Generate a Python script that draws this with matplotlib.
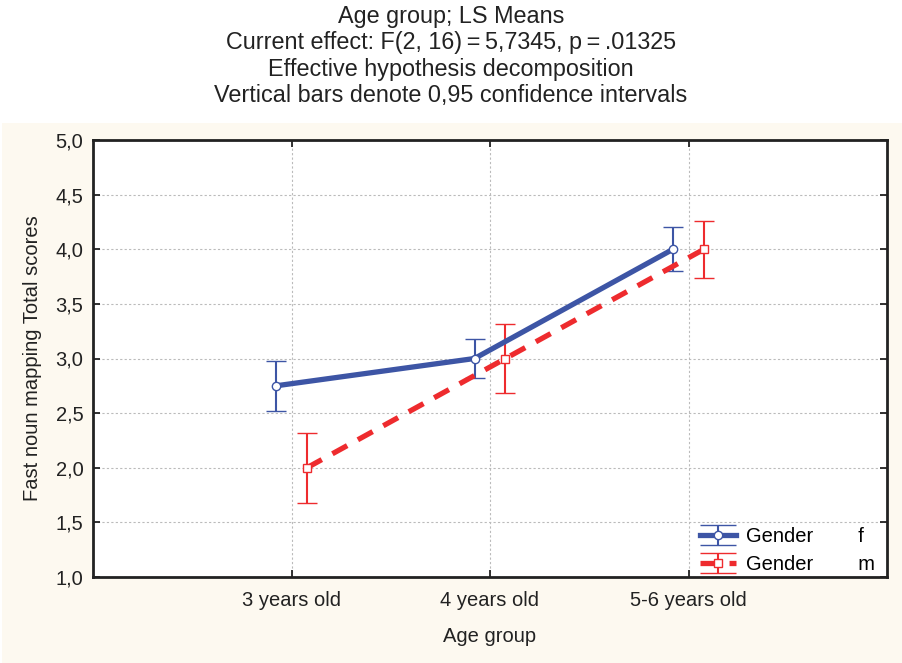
import matplotlib
matplotlib.use("Agg")
import matplotlib.pyplot as plt
from matplotlib.patches import Rectangle
from matplotlib.lines import Line2D
from matplotlib.legend_handler import HandlerErrorbar
import numpy as np

plt.rcParams['font.family'] = ['Liberation Sans', 'DejaVu Sans']

# data
age_groups = ["3 years old", "4 years old", "5-6 years old"]
female_mean = [2.75, 3.0, 4.0]
female_ci = [0.23, 0.18, 0.20]
male_mean = [2.0, 3.0, 4.0]
male_ci = [0.32, 0.32, 0.26]

title_lines = ["Age group; LS Means",
               "Current effect: F(2, 16)\u2009=\u20095,7345, p\u2009=\u2009.01325",
               "Effective hypothesis decomposition",
               "Vertical bars denote 0,95 confidence intervals"]

blue = "#3d55a5"
red = "#ee2b2e"
ink = "#222222"


class WideCapHandler(HandlerErrorbar):
    """Errorbar legend handle whose caps span the whole handle, like STATISTICA."""

    def create_artists(self, legend, orig_handle, xdescent, ydescent, width, height,
                       fontsize, trans):
        arts = super().create_artists(legend, orig_handle, xdescent, ydescent, width,
                                      height, fontsize, trans)
        for a in arts:
            if isinstance(a, Line2D) and a.get_marker() == "_":
                a.set_markersize(width)
        return arts


W, H = 902, 663
fig = plt.figure(figsize=(W / 100, H / 100), dpi=100)
fig.patch.set_facecolor("white")
fig.patches.append(Rectangle((2 / W, 0), 1, 1 - 123 / H, transform=fig.transFigure,
                             facecolor="#fdf9f0", edgecolor="none", zorder=-5))

ax = fig.add_axes([93 / W, 1 - 577 / H, (887 - 93) / W, (577 - 140) / H])
ax.set_facecolor("white")

x = np.arange(1, len(age_groups) + 1)
off = 0.078

ax.errorbar(x - off, female_mean, yerr=female_ci, fmt="-o", color=blue, lw=3.8,
            ms=6, mfc="white", mec=blue, mew=1, ecolor=blue, elinewidth=1.5,
            capsize=7.5, capthick=1.5, zorder=3, label="Gender        f")
ax.errorbar(x + off, male_mean, yerr=male_ci, fmt="s", ls=(0, (3.2, 2.3)), color=red,
            lw=3.8, ms=6, mfc="white", mec=red, mew=1, ecolor=red, elinewidth=1.5,
            capsize=7.5, capthick=1.5, zorder=3, label="Gender        m")

ax.set_xlim(0, 4)
ax.set_ylim(1.0, 5.0)
ax.set_xticks(x)
ax.set_xticklabels(age_groups, fontsize=14.5)
yt = np.arange(1.0, 5.01, 0.5)
ax.set_yticks(yt)
ax.set_yticklabels([f"{v:.1f}".replace(".", ",") for v in yt], fontsize=14.5)
ax.tick_params(direction="in", length=5, width=1.3, top=True, right=True, colors=ink)
ax.tick_params(axis="x", pad=10)
ax.tick_params(axis="y", pad=7)
ax.grid(True, color="#bbbbbb", ls=(0, (2, 2)), lw=0.8)
for s in ax.spines.values():
    s.set_linewidth(2.0)
    s.set_color(ink)

ax.set_xlabel("Age group", fontsize=14.5, labelpad=12, color=ink)
ax.set_ylabel("Fast noun mapping Total scores", fontsize=14.5, labelpad=10, color=ink)

fig.text(0.5, 1 - 5 / H, "\n".join(title_lines), ha="center", va="top",
         family=['Liberation Sans Narrow', 'Liberation Sans', 'DejaVu Sans'],
         fontsize=16.8, linespacing=1.19, color=ink)

ax.legend(loc="lower right", frameon=False, fontsize=14.5, handlelength=1.8,
          handletextpad=0.5, borderaxespad=0.0, labelspacing=0.45,
          bbox_to_anchor=(0.995, -0.012),
          handler_map={matplotlib.container.ErrorbarContainer: WideCapHandler()})

fig.savefig("out.png", dpi=100)
